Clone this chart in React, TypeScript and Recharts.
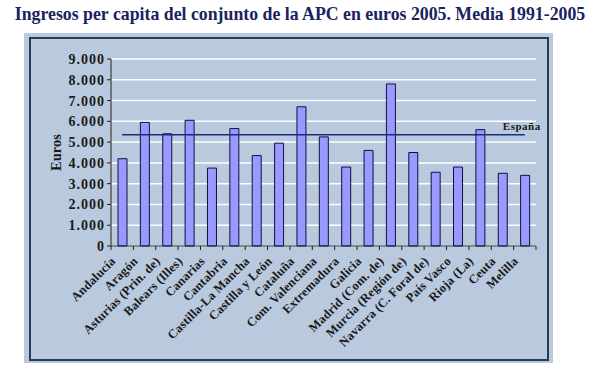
import React from 'react';
import { Bar, Line, XAxis, YAxis, CartesianGrid, ComposedChart } from 'recharts';

const regiones = [
    'Andalucía', 'Aragón', 'Asturias (Prin. de)', 'Balears (Illes)', 'Canarias', 'Cantabria',
    'Castilla-La Mancha', 'Castilla y León', 'Cataluña', 'Com. Valenciana', 'Extremadura', 'Galicia',
    'Madrid (Com. de)', 'Murcia (Región de)', 'Navarra (C. Foral de)', 'País Vasco', 'Rioja (La)',
    'Ceuta', 'Melilla',
];
const ingresos = [
    4200, 5950, 5400, 6050, 3750, 5650,
    4350, 4950, 6700, 5250, 3800, 4600,
    7800, 4500, 3550, 3800, 5600,
    3500, 3400,
];
const mediaEspana = 5350;
const yTicks = [0, 1000, 2000, 3000, 4000, 5000, 6000, 7000, 8000, 9000];

const data = regiones.map((r, i) => ({ region: r, euros: ingresos[i], espana: mediaEspana }));

const serif = '"Times New Roman", Tinos, "Liberation Serif", serif';
const PLOT_LEFT = 111;
const PLOT_RIGHT = 536;
const band = (PLOT_RIGHT - PLOT_LEFT) / regiones.length;

const fmt = (v: number) => (v === 0 ? '0' : v.toLocaleString('de-DE'));

const RegionTick = (props: any) => {
    const { x, y, payload, index } = props;
    const ax = x - 6;
    const ay = y + 8;
    return (
        <g>
            <line x1={x - band / 2} y1={y - 8} x2={x - band / 2} y2={y - 4} stroke="#222" />
            {index === regiones.length - 1 && (
                <line x1={x + band / 2} y1={y - 8} x2={x + band / 2} y2={y - 4} stroke="#222" />
            )}
            <text
                x={ax}
                y={ay}
                textAnchor="end"
                transform={`rotate(-45, ${ax}, ${ay})`}
                style={{ fontFamily: serif, fontWeight: 'bold', fontSize: 12.5, letterSpacing: 0.2 }}
                fill="#1a1a1a"
            >
                {payload.value}
            </text>
        </g>
    );
};

const EspanaLabel = (props: any) => {
    const { x, y, index } = props;
    if (index !== regiones.length - 1) return null;
    return (
        <text x={x - 22} y={y - 5} style={{ fontFamily: serif, fontWeight: 'bold', fontSize: 11, letterSpacing: 0.5 }} fill="#1a1a1a">
            España
        </text>
    );
};

export default function App() {
    return (
        <div style={{ position: 'absolute', left: 0, top: 0, width: 600, height: 376, background: '#fff' }}>
            <div
                style={{
                    position: 'absolute', left: 0, top: 4, width: 600, textAlign: 'center',
                    fontFamily: serif, fontWeight: 'bold', fontSize: 17.8, color: '#1a2260',
                }}
            >
                Ingresos per capita del conjunto de la APC en euros 2005. Media 1991-2005
            </div>
            <div style={{ position: 'absolute', left: 24, top: 33, width: 529, height: 330, background: '#b9c9de' }} />
            <div
                style={{
                    position: 'absolute', left: 29, top: 37, width: 516, height: 320,
                    border: '2px solid #2c3a55', background: '#b9c9de',
                }}
            />
            <div style={{ position: 'absolute', left: 0, top: 0 }}>
                <ComposedChart
                    width={600}
                    height={376}
                    data={data}
                    margin={{ top: 59, right: 600 - PLOT_RIGHT, bottom: 10, left: 40 }}
                    barCategoryGap={0}
                    style={{ fontFamily: serif }}
                >
                    <CartesianGrid horizontal vertical={false} stroke="#ffffff" strokeWidth={1.5} />
                    <XAxis
                        dataKey="region"
                        interval={0}
                        height={120}
                        tickLine={false}
                        axisLine={{ stroke: '#222' }}
                        tick={<RegionTick />}
                    />
                    <YAxis
                        width={PLOT_LEFT - 40}
                        domain={[0, 9000]}
                        ticks={yTicks}
                        interval={0}
                        tickFormatter={fmt}
                        axisLine={{ stroke: '#222' }}
                        tickLine={{ stroke: '#222' }}
                        tickSize={4}
                        tick={{ style: { fontFamily: serif, fontWeight: 'bold', fontSize: 14, letterSpacing: 1 }, fill: '#1a1a1a' }}
                        label={{
                            value: 'Euros', angle: -90, position: 'insideLeft', offset: 16,
                            style: { fontFamily: serif, fontWeight: 'bold', fontSize: 14.5, fill: '#1a1a1a', textAnchor: 'middle' },
                        }}
                    />
                    <Bar dataKey="euros" fill="#9999ff" stroke="#101040" strokeWidth={1} barSize={9} isAnimationActive={false} />
                    <Line
                        dataKey="espana"
                        stroke="#1c2a80"
                        strokeWidth={1.5}
                        dot={false}
                        isAnimationActive={false}
                        label={<EspanaLabel />}
                    />
                </ComposedChart>
            </div>
        </div>
    );
}
